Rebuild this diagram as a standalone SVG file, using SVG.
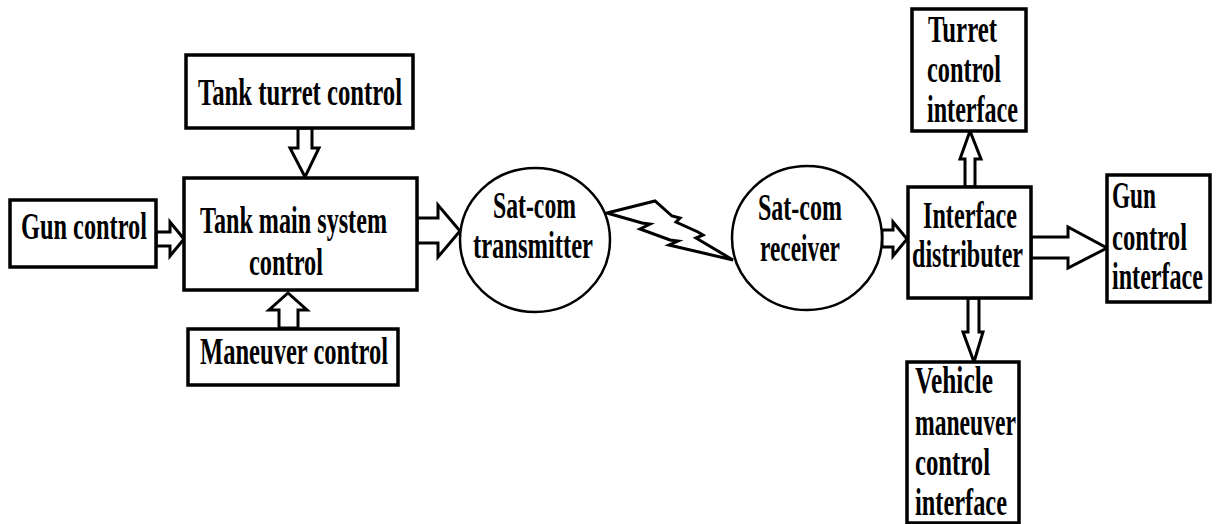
<svg xmlns="http://www.w3.org/2000/svg" width="1219" height="524" viewBox="0 0 1219 524">
<style>
.box{fill:#fff;stroke:#000;stroke-width:3.5}
.circ{fill:#fff;stroke:#000;stroke-width:2.5}
.arr{fill:#fff;stroke:#000;stroke-width:3;stroke-linejoin:miter}
text{font-family:"Liberation Serif","Times New Roman",serif;font-weight:bold;font-size:37px;fill:#000}
</style>
<rect width="1219" height="524" fill="#fff"/>
<g id="connectors">
<polygon class="arr" points="156,232 170,232 170,222 184,239 170,256 170,246 156,246"/>
<polygon class="arr" points="298,128 312,128 312,148 319,148 305,177 290,148 298,148"/>
<polygon class="arr" points="279,328 279,310 269,310 288,293 307,310 298,310 298,328"/>
<polygon class="arr" points="417,218 438,218 438,205 460,231 438,257 438,243 417,243"/>
<polygon class="arr" points="607,213 655,201 672,216 680,218 676,222 698,232 703,235 696,238 733,260 669,245 678,241 670,240 640,229 650,224 642,223"/>
<polygon class="arr" points="882,230 893,230 893,222 907,239 893,256 893,247 882,247"/>
<polygon class="arr" points="965,187 965,159 960,159 970,131 981,159 975,159 975,187"/>
<polygon class="arr" points="968,298 979,298 979,332 983,332 974,362 963,332 968,332"/>
<polygon class="arr" points="1031,237 1068,237 1068,227 1107,248 1068,268 1068,258 1031,258"/>
</g>
<g id="gun-control">
<rect class="box" x="10" y="200" width="146" height="67"/>
<text x="21" y="239" textLength="126" lengthAdjust="spacingAndGlyphs">Gun control</text>
</g>
<g id="tank-turret-control">
<rect class="box" x="186" y="55" width="227" height="73"/>
<text x="198" y="105" textLength="204" lengthAdjust="spacingAndGlyphs">Tank turret control</text>
</g>
<g id="tank-main-system-control">
<rect class="box" x="184" y="178" width="233" height="112"/>
<text x="200" y="233" textLength="187" lengthAdjust="spacingAndGlyphs">Tank main system</text>
<text x="249" y="275" textLength="74" lengthAdjust="spacingAndGlyphs">control</text>
</g>
<g id="maneuver-control">
<rect class="box" x="188" y="329" width="210" height="56"/>
<text x="200" y="364" textLength="188" lengthAdjust="spacingAndGlyphs">Maneuver control</text>
</g>
<g id="sat-com-transmitter">
<ellipse class="circ" cx="535" cy="240" rx="75" ry="72"/>
<text x="493" y="218" textLength="83" lengthAdjust="spacingAndGlyphs">Sat-com</text>
<text x="473" y="258" textLength="120" lengthAdjust="spacingAndGlyphs">transmitter</text>
</g>
<g id="sat-com-receiver">
<ellipse class="circ" cx="807" cy="238" rx="75" ry="72"/>
<text x="758" y="220" textLength="84" lengthAdjust="spacingAndGlyphs">Sat-com</text>
<text x="760" y="261" textLength="80" lengthAdjust="spacingAndGlyphs">receiver</text>
</g>
<g id="interface-distributer">
<rect class="box" x="908" y="187" width="123" height="111"/>
<text x="923" y="228" textLength="94" lengthAdjust="spacingAndGlyphs">Interface</text>
<text x="912" y="267" textLength="111" lengthAdjust="spacingAndGlyphs">distributer</text>
</g>
<g id="turret-control-interface">
<rect class="box" x="912" y="9" width="114" height="122"/>
<text x="928" y="42" textLength="69" lengthAdjust="spacingAndGlyphs">Turret</text>
<text x="927" y="82" textLength="74" lengthAdjust="spacingAndGlyphs">control</text>
<text x="927" y="122" textLength="91" lengthAdjust="spacingAndGlyphs">interface</text>
</g>
<g id="gun-control-interface">
<rect class="box" x="1107" y="175" width="103" height="127"/>
<text transform="translate(1112,208) scale(0.65,1)" x="0" y="0" textLength="67.7" lengthAdjust="spacingAndGlyphs">Gun</text>
<text transform="translate(1112,250) scale(0.65,1)" x="0" y="0" textLength="115.4" lengthAdjust="spacingAndGlyphs">control</text>
<text transform="translate(1112,289) scale(0.65,1)" x="0" y="0" textLength="140" lengthAdjust="spacingAndGlyphs">interface</text>
</g>
<g id="vehicle-maneuver-control-interface">
<rect class="box" x="907" y="362" width="112" height="161"/>
<text x="915" y="393" textLength="78" lengthAdjust="spacingAndGlyphs">Vehicle</text>
<text x="915" y="435" textLength="101" lengthAdjust="spacingAndGlyphs">maneuver</text>
<text x="915" y="475" textLength="75" lengthAdjust="spacingAndGlyphs">control</text>
<text x="915" y="515" textLength="92" lengthAdjust="spacingAndGlyphs">interface</text>
</g>
</svg>
